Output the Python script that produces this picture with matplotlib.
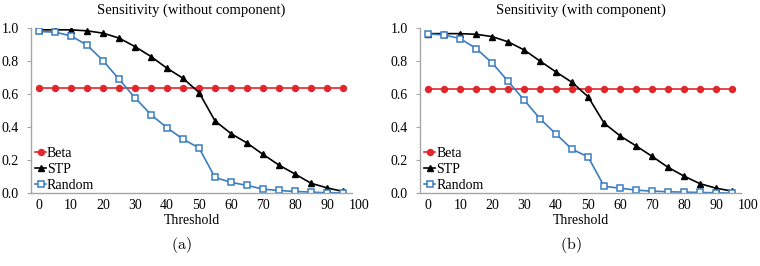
import matplotlib.pyplot as plt

plt.rcParams['font.family'] = ['Liberation Serif', 'DejaVu Serif']
plt.rcParams['mathtext.fontset'] = 'cm'

# Data
threshold = [0, 5, 10, 15, 20, 25, 30, 35, 40, 45, 50, 55, 60, 65, 70, 75, 80, 85, 90, 95]

beta_a = [0.64] * 20
stp_a = [0.99, 0.99, 0.99, 0.984, 0.97, 0.94, 0.888, 0.828, 0.757, 0.696, 0.61,
         0.438, 0.361, 0.304, 0.235, 0.17, 0.116, 0.06, 0.032, 0.01]
rand_a = [0.98, 0.976, 0.953, 0.897, 0.803, 0.69, 0.578, 0.475, 0.396, 0.327, 0.274,
          0.095, 0.065, 0.047, 0.024, 0.016, 0.01, 0.006, 0.002, 0.002]

beta_b = [0.63] * 20
stp_b = [0.967, 0.967, 0.967, 0.963, 0.949, 0.917, 0.868, 0.80, 0.734, 0.671, 0.584,
         0.424, 0.347, 0.286, 0.223, 0.156, 0.103, 0.057, 0.03, 0.012]
rand_b = [0.965, 0.959, 0.937, 0.876, 0.789, 0.677, 0.564, 0.45, 0.357, 0.266, 0.219,
          0.041, 0.03, 0.018, 0.012, 0.008, 0.006, 0.004, 0.002, 0.0]

titles = ['Sensitivity (without component)', 'Sensitivity (with component)']
sublabels = ['(a)', '(b)']
xticks = [0, 10, 20, 30, 40, 50, 60, 70, 80, 90, 100]
yticks = [0.0, 0.2, 0.4, 0.6, 0.8, 1.0]

red = '#e3262b'
blue = '#3a7dc0'
grey = '#a6a6a6'
fs = 10

fig = plt.figure(figsize=(7.6, 2.66), dpi=100)
axes = [fig.add_axes([0.041, 0.274, 0.422, 0.620]),
        fig.add_axes([0.553, 0.274, 0.422, 0.620])]

panels = [(beta_a, stp_a, rand_a), (beta_b, stp_b, rand_b)]

for ax, (beta, stp, rand), title, sub in zip(axes, panels, titles, sublabels):
    ax.plot(threshold, beta, color=red, marker='o', markersize=4.3, lw=1.2, label='Beta')
    ax.plot(threshold, stp, color='black', marker='^', markersize=5, lw=1.2, label='STP')
    ax.plot(threshold, rand, color=blue, marker='s', markersize=4.5, lw=1.2,
            markerfacecolor='white', markeredgewidth=1.1, label='Random')

    ax.set_xlim(-2.5, 97.8)
    ax.set_ylim(0, 1.0)
    ax.set_yticks(yticks)
    ax.set_yticklabels(['%.1f' % v for v in yticks], fontsize=fs)
    ax.set_xticks(xticks[:-1])
    ax.set_xticklabels([str(v) for v in xticks[:-1]], fontsize=fs)
    # the last label sits past the axis end
    ax.annotate(str(xticks[-1]), xy=(xticks[-1], 0), xycoords=('data', 'axes fraction'),
                xytext=(0, -4.5), textcoords='offset points', ha='center', va='top',
                fontsize=fs, annotation_clip=False)
    ax.tick_params(axis='x', length=0, pad=4.5)
    ax.tick_params(axis='y', length=3, color=grey, pad=6)

    for side in ['top', 'right']:
        ax.spines[side].set_visible(False)
    for side in ['left', 'bottom']:
        ax.spines[side].set_color(grey)
        ax.spines[side].set_linewidth(1.0)

    ax.set_title(title, fontsize=10.5, pad=10)
    ax.set_xlabel('Threshold', fontsize=fs, labelpad=1.5)
    ax.legend(loc='lower left', frameon=False, fontsize=fs, handlelength=0.8,
              handletextpad=0.05, labelspacing=0.2, borderaxespad=0.0,
              bbox_to_anchor=(-0.005, -0.025))
    ax.text(0.47, -0.315, r'$\mathrm{' + sub + '}$', transform=ax.transAxes,
            ha='center', va='center', fontsize=11.5)

fig.savefig('out.png', dpi=100)
